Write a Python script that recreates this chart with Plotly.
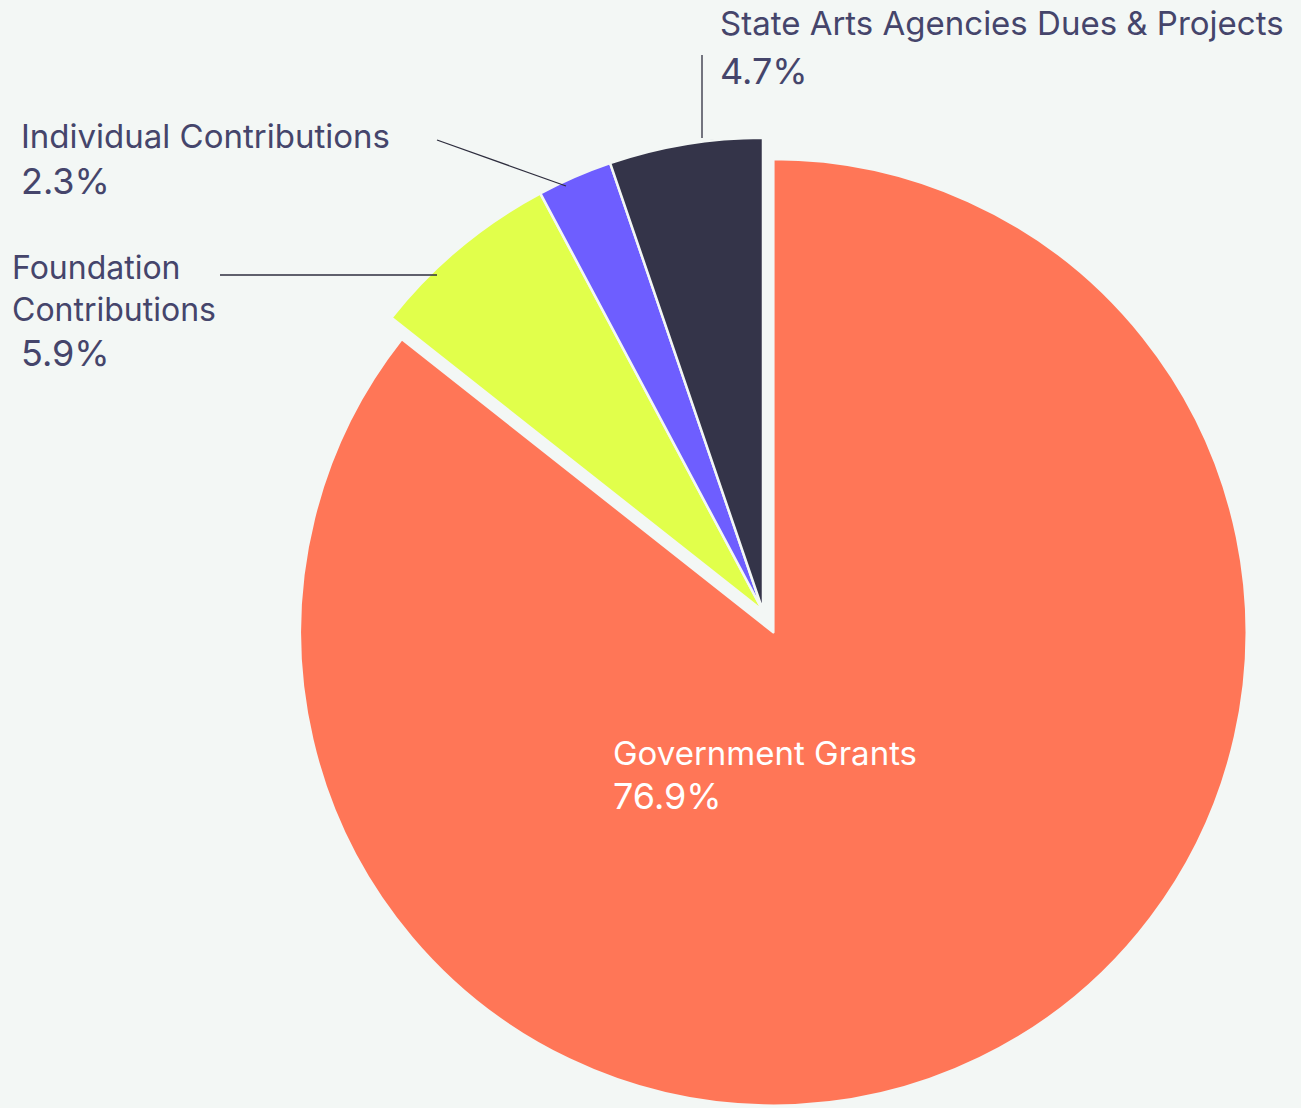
import plotly.graph_objects as go

# ---- data ----
categories = ["Government Grants", "Foundation Contributions", "Individual Contributions",
              "State Arts Agencies Dues & Projects"]
values = [76.9, 5.9, 2.3, 4.7]
pct_labels = ["76.9%", "5.9%", "2.3%", "4.7%"]
colors = ["#ff7657", "#e1ff4b", "#6e5eff", "#343449"]

BG = "#f3f7f5"
TXT = "#45456b"
W, H = 1301, 1108


def px(x):
    return x / W


def py(y):
    return 1 - y / H


fig = go.Figure(go.Pie(
    labels=categories,
    values=values,
    sort=False,
    direction="clockwise",
    rotation=0,
    pull=[0.05, 0, 0, 0],
    marker=dict(colors=colors, line=dict(color=BG, width=2.5)),
    textinfo="none",
    hoverinfo="label+percent",
    showlegend=False,
    domain=dict(x=[px(265), px(1261)], y=[py(1108), py(114)]),
))

LBL = 33
PCT = 36
font_family = "Inter, 'Noto Sans', sans-serif"

annos = []


def add_text(text, x, y, size, color=TXT):
    annos.append(dict(text=text, x=px(x), y=py(y), xref="paper", yref="paper",
                      xanchor="left", yanchor="middle", align="left", showarrow=False,
                      font=dict(size=size, color=color, family=font_family)))


# State Arts
add_text(categories[3], 718, 23, LBL)
add_text(pct_labels[3], 718, 71, PCT)
# Individual
add_text(categories[2], 19, 136, LBL)
add_text(pct_labels[2], 19, 181, PCT)
# Foundation (wrapped in two lines)
add_text("Foundation<br>Contributions", 10, 289, 32)
add_text(pct_labels[1], 19, 353, PCT)
# Government
add_text(categories[0], 611, 753, LBL, "white")
add_text(pct_labels[0], 611, 796, PCT, "white")

shapes = []


def add_line(x0, y0, x1, y1):
    shapes.append(dict(type="line", xref="paper", yref="paper",
                       x0=px(x0), y0=py(y0), x1=px(x1), y1=py(y1),
                       line=dict(color="#2e2e3e", width=1.3)))


add_line(702, 55, 702, 138)
add_line(437, 140, 566, 186)
add_line(220, 275, 437, 275)

fig.update_layout(
    width=W, height=H,
    margin=dict(l=0, r=0, t=0, b=0),
    paper_bgcolor=BG,
    plot_bgcolor=BG,
    annotations=annos,
    shapes=shapes,
)

fig.write_html(
    "out.html",
    config={"displayModeBar": False},
    post_script="document.body.style.margin='0';document.body.style.overflow='hidden';"
                "document.body.style.background='" + BG + "';",
)
